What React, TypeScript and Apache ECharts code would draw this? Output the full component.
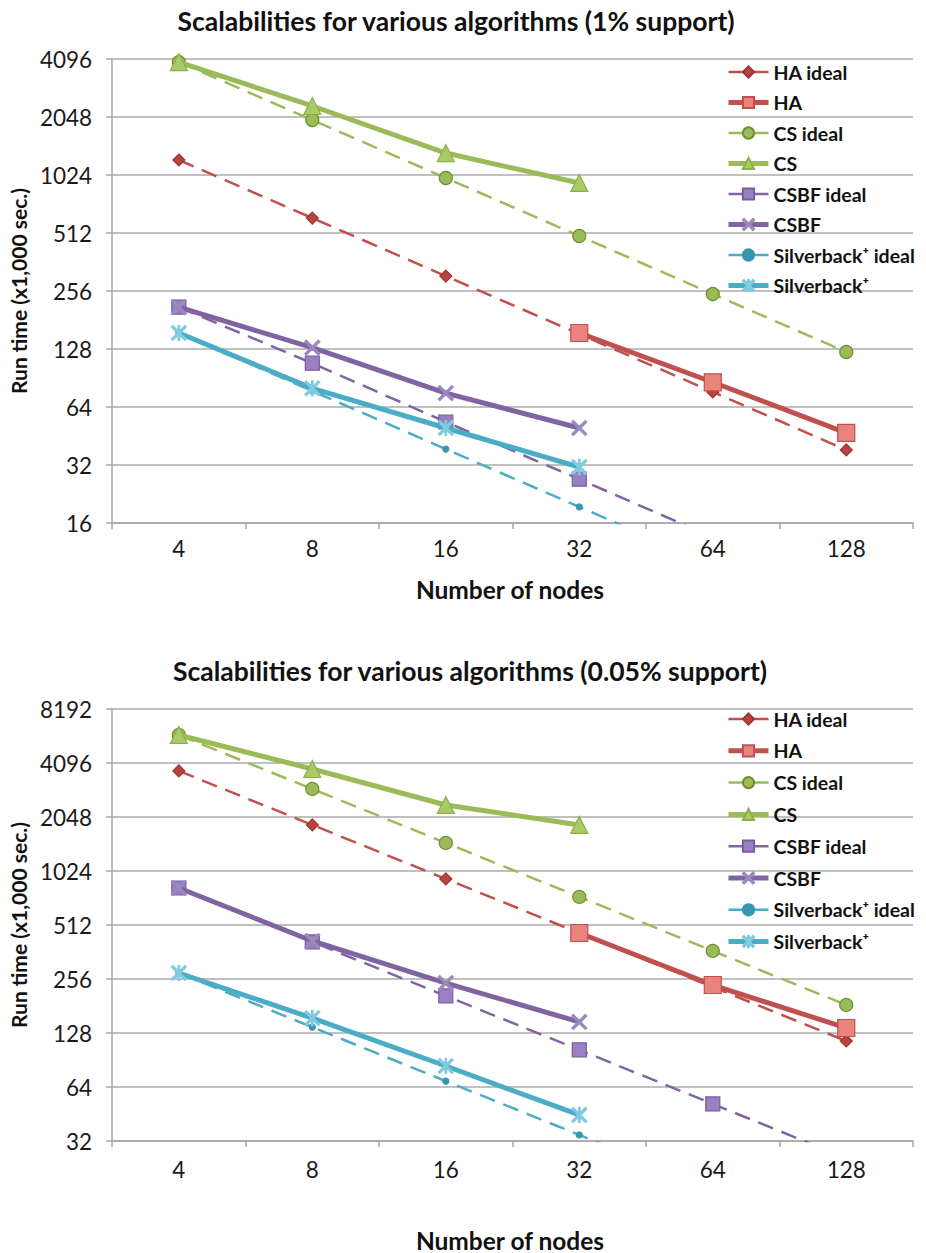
import React, { useEffect, useRef } from "react";
import * as echarts from "echarts";

// ---------- data ----------
const nodes = ["4", "8", "16", "32", "64", "128"];

// Chart 1: 1% support (run time, x1,000 sec.)
const haIdeal1 = [1225, 612, 306, 153, 76.6, 38.3];
const ha1 = [null, null, null, 155, 86, 47];
const csIdeal1 = [3950, 1976, 988, 494, 247, 123.5];
const cs1 = [3950, 2336, 1331, 931, null, null];
const csbfIdeal1 = [211, 108, 53.5, 27, 13.5, 6.7];
const csbf1 = [211, 130, 75.6, 49.8, null, null];
const sbIdeal1 = [155, 77.5, 38.7, 19.4, 9.7, 4.8];
const sb1 = [155, 80, 49.8, 31.2, null, null];

// Chart 2: 0.05% support
const haIdeal2 = [3700, 1850, 925, 462, 231, 115.5];
const ha2 = [null, null, null, 462, 237, 136.5];
const csIdeal2 = [5870, 2935, 1468, 734, 367, 183.5];
const cs2 = [5870, 3793, 2390, 1849, null, null];
const csbfIdeal2 = [823, 412, 206, 103, 51.5, 25.7];
const csbf2 = [823, 417, 243, 147.5, null, null];
const sbIdeal2 = [276.5, 138, 69, 34.6, 17.3, 8.6];
const sb2 = [276.5, 155, 83.8, 44.7, null, null];

const seriesNames = [
  "HA ideal",
  "HA",
  "CS ideal",
  "CS",
  "CSBF ideal",
  "CSBF",
  "Silverback⁺ ideal",
  "Silverback⁺",
];

const titles = [
  "Scalabilities for various algorithms (1% support)",
  "Scalabilities for various algorithms (0.05% support)",
];

// ---------- styles ----------
const FONT = "Lato, 'Open Sans', sans-serif";
const RED = "#C0504D";
const GREEN = "#9BBB59";
const PURPLE = "#8064A2";
const TEAL = "#4BACC6";

const X_PATH =
  "path://M2,0 L10,8 L18,0 L20,2 L12,10 L20,18 L18,20 L10,12 L2,20 L0,18 L8,10 L0,2 Z";
const STAR_PATH =
  "path://M2,0 L10,8 L18,0 L20,2 L12,10 L20,18 L18,20 L10,12 L2,20 L0,18 L8,10 L0,2 Z M9,0 L11,0 L11,20 L9,20 Z";

const styles = [
  { color: RED, dashed: true, symbol: "diamond", size: 12, fill: "#B9443F", border: "#9E3532" },
  { color: RED, dashed: false, symbol: "rect", size: 17, fill: "#E9837E", border: "#C0504D" },
  { color: GREEN, dashed: true, symbol: "circle", size: 13, fill: "#9BBB59", border: "#6F8E34" },
  { color: GREEN, dashed: false, symbol: "triangle", size: 17, fill: "#A8CB66", border: "#8DAF4A" },
  { color: PURPLE, dashed: true, symbol: "rect", size: 14, fill: "#9A7FC2", border: "#7A5C9E" },
  { color: PURPLE, dashed: false, symbol: X_PATH, size: 15, fill: "#9C88BE", border: "#9C88BE" },
  { color: TEAL, dashed: true, symbol: "circle", size: 6, fill: "#3A95AE", border: "#3A95AE" },
  { color: TEAL, dashed: false, symbol: STAR_PATH, size: 15, fill: "#7FCBDD", border: "#7FCBDD" },
];

function buildSeries(idx: number, datasets: (number | null)[][]) {
  return datasets.map((d, i) => {
    const s = styles[i];
    return {
      name: seriesNames[i],
      type: "line",
      xAxisIndex: idx,
      yAxisIndex: idx,
      data: d,
      clip: true,
      connectNulls: false,
      symbol: s.symbol,
      symbolSize: s.size,
      showSymbol: true,
      itemStyle: { color: s.fill, borderColor: s.border, borderWidth: 1.2 },
      lineStyle: {
        color: s.color,
        width: s.dashed ? 2.5 : 5,
        type: s.dashed ? [16, 9] : "solid",
      },
      z: s.dashed ? 2 : 3,
    };
  });
}

const grids = [
  { left: 108, top: 59, width: 805, height: 464 },
  { left: 108, top: 709, width: 805, height: 432 },
];
const yRanges = [
  [16, 4096],
  [32, 8192],
];

export default function App() {
  const ref = useRef<HTMLDivElement>(null);
  useEffect(() => {
    if (!ref.current) return;
    const chart = echarts.init(ref.current, undefined, { renderer: "svg" });

    const xAxis = [0, 1].map((i) => ({
      type: "category",
      gridIndex: i,
      data: nodes,
      boundaryGap: true,
      axisLine: { show: true, lineStyle: { color: "#A6A6A6", width: 1.5 } },
      axisTick: { show: true, length: 6, lineStyle: { color: "#A6A6A6", width: 1.5 } },
      axisLabel: {
        fontFamily: FONT,
        fontSize: 22.5,
        color: "#1a1a1a",
        margin: i === 0 ? 14 : 17,
      },
      splitLine: { show: false },
    }));

    const yAxis = [0, 1].map((i) => ({
      type: "log",
      logBase: 2,
      gridIndex: i,
      min: yRanges[i][0],
      max: yRanges[i][1],
      splitNumber: 8,
      name: "Run time (x1,000 sec.)",
      nameLocation: "middle",
      nameGap: 75,
      nameTextStyle: {
        fontFamily: FONT,
        fontSize: 21,
        fontWeight: "bold",
        color: "#111",
      },
      axisLine: { show: true, lineStyle: { color: "#A6A6A6", width: 1.5 } },
      axisTick: { show: true, length: 6, lineStyle: { color: "#A6A6A6", width: 1.5 } },
      axisLabel: {
        fontFamily: FONT,
        fontSize: 22.5,
        color: "#1a1a1a",
        margin: 20,
        formatter: (v: number) => String(Math.round(v)),
      },
      splitLine: { show: true, lineStyle: { color: "#ABABAB", width: 1.5 } },
    }));

    const legendTops = [62, 709];
    const legendGaps = [10.5, 11.8];
    const legend = [0, 1].map((i) => ({
      data: seriesNames,
      orient: "vertical",
      left: 726,
      top: legendTops[i],
      itemWidth: 40,
      itemHeight: 14,
      itemGap: legendGaps[i],
      padding: 0,
      lineStyle: { width: "inherit", type: "inherit" },
      textStyle: {
        fontFamily: FONT,
        fontSize: 19.5,
        fontWeight: "bold",
        color: "#111",
        padding: [0, 0, 0, 0],
      },
      backgroundColor: "transparent",
    }));

    const graphic = [
      {
        type: "text",
        x: 456,
        y: 21,
        style: {
          text: titles[0],
          fontFamily: FONT,
          fontSize: 26.5,
          fontWeight: "bold",
          fill: "#111",
          textAlign: "center",
          textVerticalAlign: "middle",
        },
      },
      {
        type: "text",
        x: 470,
        y: 671,
        style: {
          text: titles[1],
          fontFamily: FONT,
          fontSize: 26.5,
          fontWeight: "bold",
          fill: "#111",
          textAlign: "center",
          textVerticalAlign: "middle",
        },
      },
      {
        type: "text",
        x: 510,
        y: 589,
        style: {
          text: "Number of nodes",
          fontFamily: FONT,
          fontSize: 24.5,
          fontWeight: "bold",
          fill: "#111",
          textAlign: "center",
          textVerticalAlign: "middle",
        },
      },
      {
        type: "text",
        x: 510,
        y: 1240,
        style: {
          text: "Number of nodes",
          fontFamily: FONT,
          fontSize: 24.5,
          fontWeight: "bold",
          fill: "#111",
          textAlign: "center",
          textVerticalAlign: "middle",
        },
      },
    ];

    const series = [
      ...buildSeries(0, [haIdeal1, ha1, csIdeal1, cs1, csbfIdeal1, csbf1, sbIdeal1, sb1]),
      ...buildSeries(1, [haIdeal2, ha2, csIdeal2, cs2, csbfIdeal2, csbf2, sbIdeal2, sb2]),
    ];

    chart.setOption({
      animation: false,
      backgroundColor: "#ffffff",
      grid: grids,
      xAxis,
      yAxis,
      legend,
      graphic,
      series,
    } as any);

    return () => chart.dispose();
  }, []);

  return (
    <div
      ref={ref}
      style={{ position: "absolute", left: 0, top: 0, width: 926, height: 1253 }}
    />
  );
}
